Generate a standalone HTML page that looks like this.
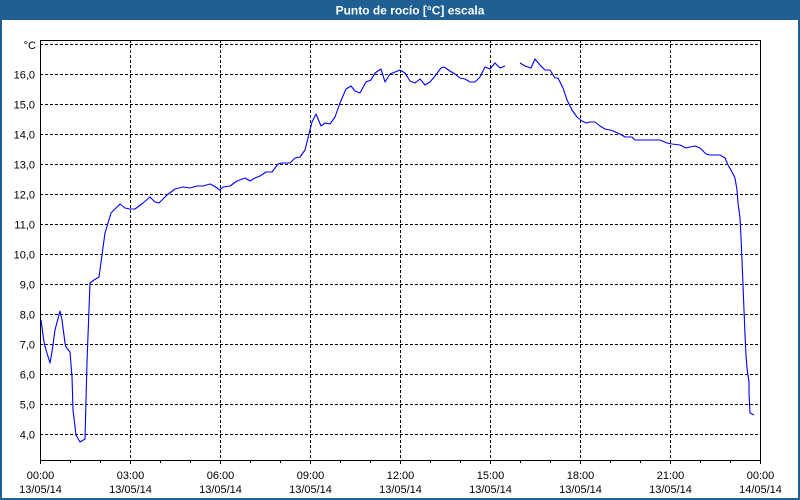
<!DOCTYPE html>
<html>
<head>
<meta charset="utf-8">
<style>
  html, body { margin: 0; padding: 0; }
  body { width: 800px; height: 500px; overflow: hidden; background: #1f5f94; }
  svg { display: block; }
</style>
</head>
<body>
<svg width="800" height="500" viewBox="0 0 800 500" xmlns="http://www.w3.org/2000/svg" font-family="'Liberation Sans', sans-serif">
  <!-- frame -->
  <rect x="0" y="0" width="800" height="500" fill="#1f5f94"/>
  <rect x="2" y="20" width="796" height="478" fill="#ffffff"/>
  <text x="410" y="14.5" font-size="12" font-weight="bold" fill="#ffffff" text-anchor="middle">Punto de rocío [°C] escala</text>

  <!-- horizontal grid -->
  <g stroke="#000" stroke-width="1" stroke-dasharray="3,2" shape-rendering="crispEdges">
    <line x1="40" y1="44.5" x2="760" y2="44.5"/>
    <line x1="40" y1="74.5" x2="760" y2="74.5"/>
    <line x1="40" y1="104.5" x2="760" y2="104.5"/>
    <line x1="40" y1="134.5" x2="760" y2="134.5"/>
    <line x1="40" y1="164.5" x2="760" y2="164.5"/>
    <line x1="40" y1="194.5" x2="760" y2="194.5"/>
    <line x1="40" y1="224.5" x2="760" y2="224.5"/>
    <line x1="40" y1="254.5" x2="760" y2="254.5"/>
    <line x1="40" y1="284.5" x2="760" y2="284.5"/>
    <line x1="40" y1="314.5" x2="760" y2="314.5"/>
    <line x1="40" y1="344.5" x2="760" y2="344.5"/>
    <line x1="40" y1="374.5" x2="760" y2="374.5"/>
    <line x1="40" y1="404.5" x2="760" y2="404.5"/>
    <line x1="40" y1="434.5" x2="760" y2="434.5"/>
  </g>
  <!-- vertical grid -->
  <g stroke="#000" stroke-width="1" stroke-dasharray="3,2" shape-rendering="crispEdges">
    <line x1="130.5" y1="40" x2="130.5" y2="460"/>
    <line x1="220.5" y1="40" x2="220.5" y2="460"/>
    <line x1="310.5" y1="40" x2="310.5" y2="460"/>
    <line x1="400.5" y1="40" x2="400.5" y2="460"/>
    <line x1="490.5" y1="40" x2="490.5" y2="460"/>
    <line x1="580.5" y1="40" x2="580.5" y2="460"/>
    <line x1="670.5" y1="40" x2="670.5" y2="460"/>
  </g>
  <!-- plot box -->
  <rect x="40.5" y="40.5" width="720" height="420" fill="none" stroke="#000" stroke-width="1" shape-rendering="crispEdges"/>
  <!-- bottom ticks -->
  <g stroke="#000" stroke-width="1" shape-rendering="crispEdges">
    <line x1="40.5" y1="460" x2="40.5" y2="464"/>
    <line x1="70.5" y1="460" x2="70.5" y2="463"/>
    <line x1="100.5" y1="460" x2="100.5" y2="463"/>
    <line x1="130.5" y1="460" x2="130.5" y2="464"/>
    <line x1="160.5" y1="460" x2="160.5" y2="463"/>
    <line x1="190.5" y1="460" x2="190.5" y2="463"/>
    <line x1="220.5" y1="460" x2="220.5" y2="464"/>
    <line x1="250.5" y1="460" x2="250.5" y2="463"/>
    <line x1="280.5" y1="460" x2="280.5" y2="463"/>
    <line x1="310.5" y1="460" x2="310.5" y2="464"/>
    <line x1="340.5" y1="460" x2="340.5" y2="463"/>
    <line x1="370.5" y1="460" x2="370.5" y2="463"/>
    <line x1="400.5" y1="460" x2="400.5" y2="464"/>
    <line x1="430.5" y1="460" x2="430.5" y2="463"/>
    <line x1="460.5" y1="460" x2="460.5" y2="463"/>
    <line x1="490.5" y1="460" x2="490.5" y2="464"/>
    <line x1="520.5" y1="460" x2="520.5" y2="463"/>
    <line x1="550.5" y1="460" x2="550.5" y2="463"/>
    <line x1="580.5" y1="460" x2="580.5" y2="464"/>
    <line x1="610.5" y1="460" x2="610.5" y2="463"/>
    <line x1="640.5" y1="460" x2="640.5" y2="463"/>
    <line x1="670.5" y1="460" x2="670.5" y2="464"/>
    <line x1="700.5" y1="460" x2="700.5" y2="463"/>
    <line x1="730.5" y1="460" x2="730.5" y2="463"/>
    <line x1="760.5" y1="460" x2="760.5" y2="464"/>
  </g>

  <!-- y labels -->
  <g font-size="11" fill="#000" text-anchor="end">
    <text x="36" y="49">°C</text>
    <text x="35" y="78.5">16,0</text>
    <text x="35" y="108.5">15,0</text>
    <text x="35" y="138.5">14,0</text>
    <text x="35" y="168.5">13,0</text>
    <text x="35" y="198.5">12,0</text>
    <text x="35" y="228.5">11,0</text>
    <text x="35" y="258.5">10,0</text>
    <text x="35" y="288.5">9,0</text>
    <text x="35" y="318.5">8,0</text>
    <text x="35" y="348.5">7,0</text>
    <text x="35" y="378.5">6,0</text>
    <text x="35" y="408.5">5,0</text>
    <text x="35" y="438.5">4,0</text>
  </g>

  <!-- x labels -->
  <g font-size="11" fill="#000" text-anchor="middle">
    <text x="40.5" y="479">00:00</text><text x="40.5" y="493">13/05/14</text>
    <text x="130.5" y="479">03:00</text><text x="130.5" y="493">13/05/14</text>
    <text x="220.5" y="479">06:00</text><text x="220.5" y="493">13/05/14</text>
    <text x="310.5" y="479">09:00</text><text x="310.5" y="493">13/05/14</text>
    <text x="400.5" y="479">12:00</text><text x="400.5" y="493">13/05/14</text>
    <text x="490.5" y="479">15:00</text><text x="490.5" y="493">13/05/14</text>
    <text x="580.5" y="479">18:00</text><text x="580.5" y="493">13/05/14</text>
    <text x="670.5" y="479">21:00</text><text x="670.5" y="493">13/05/14</text>
    <text x="760.5" y="479">00:00</text><text x="760.5" y="493">14/05/14</text>
  </g>

  <!-- series -->
  <g fill="none" stroke="#0000ff" stroke-width="1.1" stroke-linejoin="round">
    <polyline points="41,320 44,342 46,350 50,363 52,352 55,330 60,311 62,320 65,343 66,347 70,352 72,377 73,410 76,435 80,442 85,439 87,362 90,283 94,280 99,277 102,255 105,233 108,223 111,213 120,204 125,208 130,209 135,209 143,203 150,197 155,202 159,203 167,195 175,189 183,187 190,188 197,186 203,186 210,184 214,186 220,190 223,187 230,186 237,181 245,178 250,181 255,178 260,176 266,172 272,172 278,164 282,163 290,163 295,158 300,157 305,150 308,138 312,122 316,114 321,126 325,123 330,124 335,117 340,103 346,89 351,86 355,91 360,93 366,82 371,80 375,73 381,69 385,82 390,74 395,72 400,70 405,73 410,81 415,83 420,79 425,85 430,82 435,76 441,68 444,67 450,71 455,74 460,78 465,79 470,82 475,82 480,77 485,67 490,69 495,63 500,68 505,66"/>
    <polyline points="520,63 525,66 531,68 535,59 540,65 545,70 550,70 555,78 558,78 563,88 567,100 572,110 577,117 582,121 586,123 590,122 595,122 600,126 605,129 610,130 613,131 620,134 625,137 632,137 635,140 660,140 667,143 672,144 680,145 686,148 690,147 695,146 700,148 706,154 710,155 720,155 725,158 728,165 732,172 735,178 737,190 738,203 740,218 741,237 742,260 743,285 744,310 745,335 746,355 747,368 749,382 749,393 750,413 754,415"/>
  </g>
</svg>
</body>
</html>
